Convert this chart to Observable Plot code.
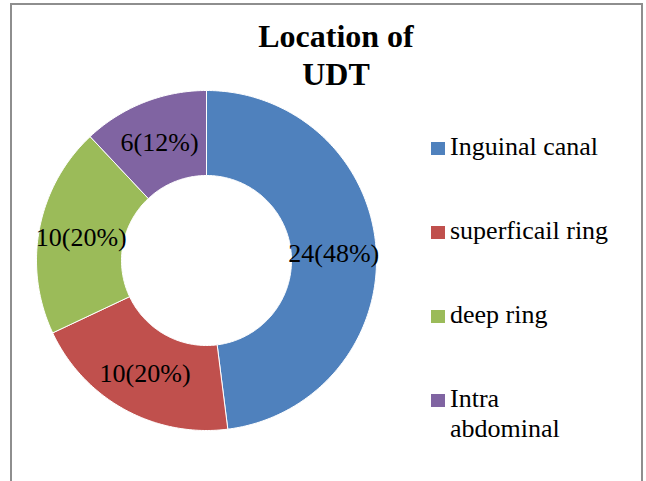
<!DOCTYPE html>
<html>
<head>
<meta charset="utf-8">
<script src="https://cdn.jsdelivr.net/npm/d3@7"></script>
<script src="https://cdn.jsdelivr.net/npm/@observablehq/plot@0.6"></script>
<style>
  html, body { margin: 0; padding: 0; background: #fff; }
  #wrap { position: relative; width: 646px; height: 481px; overflow: hidden; font-family: 'Liberation Serif'; }
  #frame { position: absolute; left: 10px; top: 3px; width: 629px; height: 520px; border: 2px solid #8e8e8e; border-bottom: none; }
  #chart { position: absolute; left: 0; top: 0; }
  #title { position: absolute; left: 236px; width: 200px; top: 17px; text-align: center; font-family: 'Liberation Serif'; font-weight: bold; font-size: 32px; line-height: 38px; color: #000; }
  #legend { position: absolute; left: 431px; top: 132px; }
  .item { position: relative; height: 84px; }
  .sw { position: absolute; left: 0; top: 10px; width: 14px; height: 13px; }
  .lab { position: absolute; left: 19px; top: 0; width: 162px; font-family: 'Liberation Serif'; font-size: 26px; line-height: 30px; color: #000; }
</style>
</head>
<body>
<div id="wrap">
  <div id="frame"></div>
  <div id="chart"></div>
  <div id="title">Location of UDT</div>
  <div id="legend"></div>
</div>
<script>
const categories = ["Inguinal canal", "superficail ring", "deep ring", "Intra abdominal"];
const counts = [24, 10, 10, 6];
const percents = [48, 20, 20, 12];
const colors = ["#4F81BD", "#C0504D", "#9BBB59", "#8064A2"];

const innerRatio = 0.5;
const pie = d3.pie().sort(null).value(d => d.count).startAngle(0).endAngle(2 * Math.PI);
const rows = categories.map((c, i) => ({category: c, count: counts[i], pct: percents[i], color: colors[i]}));
const arcs = pie(rows);

// ring outline vertices for each slice (geometry of the arc shape)
const shapes = [];
arcs.forEach(a => {
  const steps = Math.max(8, Math.ceil((a.endAngle - a.startAngle) / (Math.PI / 180)));
  const pts = [];
  for (let k = 0; k <= steps; k++) {
    const t = a.startAngle + (a.endAngle - a.startAngle) * k / steps;
    pts.push({x: Math.sin(t), y: Math.cos(t)});
  }
  for (let k = steps; k >= 0; k--) {
    const t = a.startAngle + (a.endAngle - a.startAngle) * k / steps;
    pts.push({x: innerRatio * Math.sin(t), y: innerRatio * Math.cos(t)});
  }
  pts.push(pts[0]);
  pts.forEach(p => shapes.push({...p, category: a.data.category}));
});

const labels = arcs.map(a => {
  const m = (a.startAngle + a.endAngle) / 2;
  const r = (1 + innerRatio) / 2;
  return {x: r * Math.sin(m), y: r * Math.cos(m), text: `${a.data.count}(${a.data.pct}%)`};
});

const plot = Plot.plot({
  width: 646,
  height: 481,
  margin: 0,
  style: {background: "transparent", overflow: "visible", fontFamily: "'Liberation Serif'"},
  x: {domain: [-1, 1], range: [36, 376], axis: null},
  y: {domain: [-1, 1], range: [430, 90], axis: null},
  color: {domain: categories, range: colors},
  marks: [
    Plot.line(shapes, {x: "x", y: "y", z: "category", fill: "category", stroke: "#ffffff", strokeWidth: 1, curve: "linear"}),
    Plot.text(labels, {x: "x", y: "y", text: "text", fontSize: 26, fontFamily: "Liberation Serif", fill: "#000", dy: 1})
  ]
});
document.getElementById("chart").appendChild(plot);

const legend = document.getElementById("legend");
categories.forEach((c, i) => {
  const it = document.createElement("div");
  it.className = "item";
  const sw = document.createElement("div");
  sw.className = "sw";
  sw.style.background = colors[i];
  const lab = document.createElement("div");
  lab.className = "lab";
  lab.textContent = c;
  it.appendChild(sw);
  it.appendChild(lab);
  legend.appendChild(it);
});
</script>
</body>
</html>
